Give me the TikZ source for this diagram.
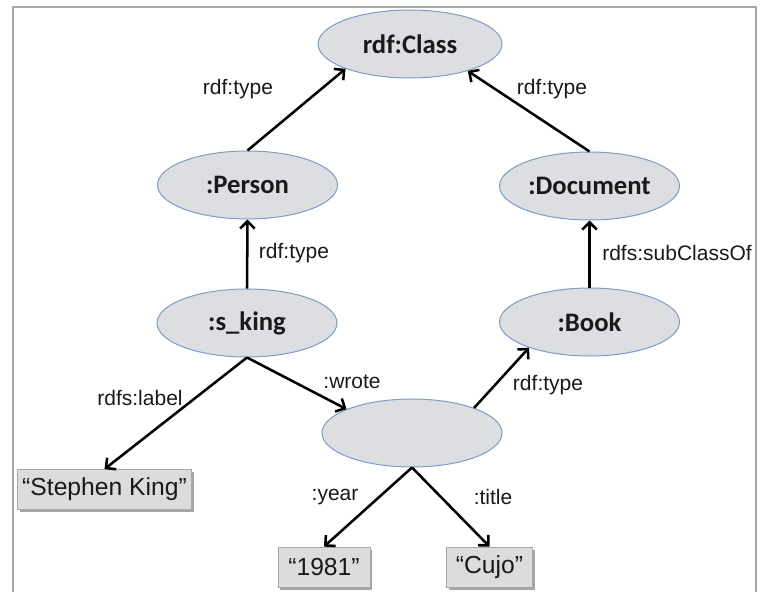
\documentclass[tikz,border=0pt]{standalone}
\usepackage{fontspec}
\setmainfont{Liberation Sans}
\newfontfamily\calib{Carlito}
\usetikzlibrary{shapes.geometric,arrows.meta,shadows}
\definecolor{ellfill}{HTML}{DDDEE2}
\definecolor{ellline}{HTML}{7E9CC4}
\definecolor{boxfill}{HTML}{DCDCDC}
\definecolor{boxline}{HTML}{A8A8A8}
\definecolor{framec}{HTML}{A6A6A6}
\begin{document}
\begin{tikzpicture}[x=0.75pt,y=-0.75pt,
  res/.style={ellipse,draw=ellline,line width=0.75pt,fill=ellfill,
    minimum width=135pt,minimum height=51pt,inner sep=0pt,
    font=\calib\bfseries\fontsize{20}{24}\selectfont,text=black!90},
  lit/.style={rectangle,draw=boxline,line width=0.6pt,fill=boxfill,
    minimum height=30pt,inner sep=0pt,text=black!90,
    font=\fontsize{18.5}{22}\selectfont,
    drop shadow={shadow xshift=1.8pt,shadow yshift=-2.2pt,opacity=0.35,fill=black}},
  lbl/.style={font=\fontsize{15.75}{18}\selectfont,inner sep=0pt,text=black!90},
  arr/.style={-{Straight Barb[length=5.5pt,width=11pt]},line width=1.9pt}
]
\useasboundingbox (0,0) rectangle (766,592);
\draw[framec,line width=1.2pt] (13,592) -- (13,7) -- (756,7) -- (756,592);

\node[res,minimum width=138pt] (class) at (410,44) {rdf:Class};
\node[res] (person) at (247.5,185) {:Person};
\node[res] (doc) at (589.5,186) {:Document};
\node[res] (sking) at (247,323) {:s\_king};
\node[res] (book) at (589.5,322) {:Book};
\node[res] (blank) at (412,433) {};

\node[lit,minimum width=131pt] (sk) at (104.5,489.5) {“Stephen King”};
\node[lit,minimum width=69pt] (year) at (324,567) {“1981”};
\node[lit,minimum width=65pt] (cujo) at (489.5,567) {“Cujo”};

\draw[arr] (person.north) -- (class.201);
\draw[arr] (doc.north) -- (class.335);
\draw[arr] (sking.north) -- (person.south);
\draw[arr] (book.north) -- (doc.south);
\draw[arr] (sking.south) -- (sk.north);
\draw[arr] (sking.south) -- (blank.160);
\draw[arr] (blank.22) -- (book.203);
\draw[arr] (blank.south) -- (year.north);
\draw[arr] (blank.south) -- (cujo.north);

\node[lbl] (l1) at (238,89) {rdf:type};
\node[lbl] (l2) at (552,89) {rdf:type};
\node[lbl] (l3) at (294,253) {rdf:type};
\node[lbl] (l4) at (677,253) {rdfs:subClassOf};
\node[lbl] (l5) at (140,398) {rdfs:label};
\node[lbl] (l6) at (352,382) {:wrote};
\node[lbl] (l7) at (548,385) {rdf:type};
\node[lbl] (l8) at (335,497) {:year};
\node[lbl] (l9) at (493,497) {:title};
\end{tikzpicture}
\end{document}
